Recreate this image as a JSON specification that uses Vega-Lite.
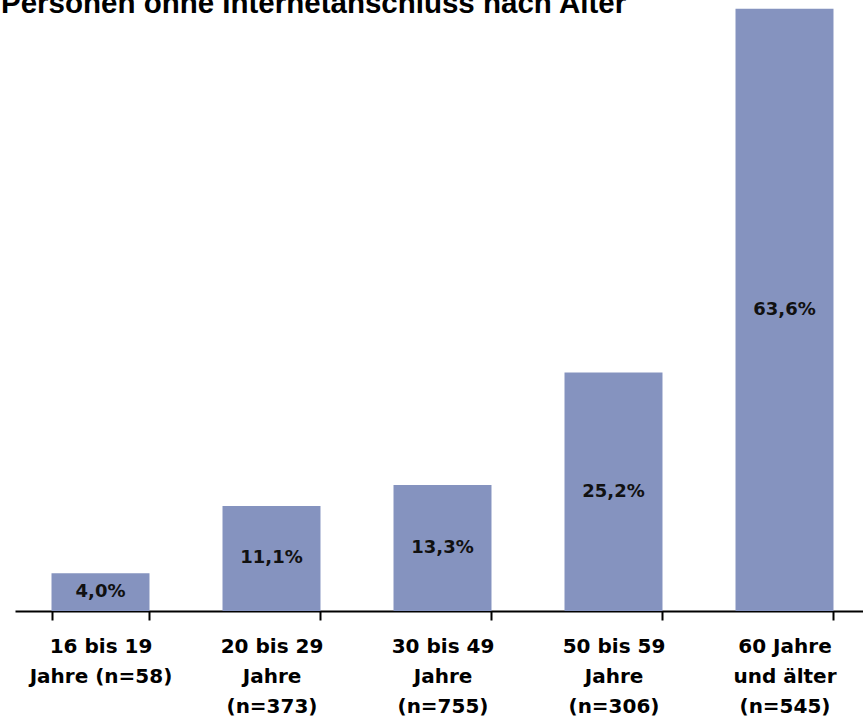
{
  "$schema": "https://vega.github.io/schema/vega-lite/v6.json",
  "autosize": {"type": "none"},
  "width": 848,
  "height": 606,
  "padding": {"left": 15, "top": 5, "right": 0, "bottom": 109},
  "background": "white",
  "title": {
    "text": "Personen ohne Internetanschluss nach Alter",
    "anchor": "start",
    "frame": "group",
    "orient": "top",
    "font": "Liberation Sans",
    "fontSize": 29.5,
    "fontWeight": "bold",
    "color": "black",
    "baseline": "alphabetic",
    "offset": -37,
    "dx": -14
  },
  "data": {
    "values": [
      {"group": "16 bis 19\nJahre (n=58)", "value": 4.0, "label": "4,0%"},
      {"group": "20 bis 29\nJahre\n(n=373)", "value": 11.1, "label": "11,1%"},
      {"group": "30 bis 49\nJahre\n(n=755)", "value": 13.3, "label": "13,3%"},
      {"group": "50 bis 59\nJahre\n(n=306)", "value": 25.2, "label": "25,2%"},
      {"group": "60 Jahre\nund älter\n(n=545)", "value": 63.6, "label": "63,6%"}
    ]
  },
  "transform": [{"calculate": "datum.value / 2", "as": "mid"}],
  "encoding": {
    "x": {
      "field": "group",
      "type": "nominal",
      "sort": null,
      "scale": {"range": [0, 855], "paddingInner": 0.427, "paddingOuter": 0.2135},
      "axis": {
        "title": null,
        "labelAngle": 0,
        "labelExpr": "split(datum.label, '\\n')",
        "labelFont": "DejaVu Sans",
        "labelFontWeight": "bold",
        "labelFontSize": 20,
        "labelColor": "black",
        "labelLineHeight": 30,
        "labelPadding": 16,
        "labelBaseline": "top",
        "labelLimit": 0,
        "domainColor": "black",
        "domainWidth": 2,
        "tickColor": "black",
        "tickWidth": 2,
        "tickSize": 9,
        "tickBand": "extent",
        "grid": false
      }
    }
  },
  "layer": [
    {
      "mark": {"type": "bar", "color": "#8593BF"},
      "encoding": {
        "y": {
          "field": "value",
          "type": "quantitative",
          "scale": {"domain": [0, 64], "nice": false},
          "axis": null
        }
      }
    },
    {
      "mark": {
        "type": "text",
        "font": "DejaVu Sans",
        "fontWeight": "bold",
        "fontSize": 18,
        "color": "#111111",
        "baseline": "middle",
        "align": "center"
      },
      "encoding": {
        "y": {"field": "mid", "type": "quantitative", "scale": {"domain": [0, 64], "nice": false}},
        "text": {"field": "label"}
      }
    }
  ],
  "config": {"view": {"stroke": null}}
}
